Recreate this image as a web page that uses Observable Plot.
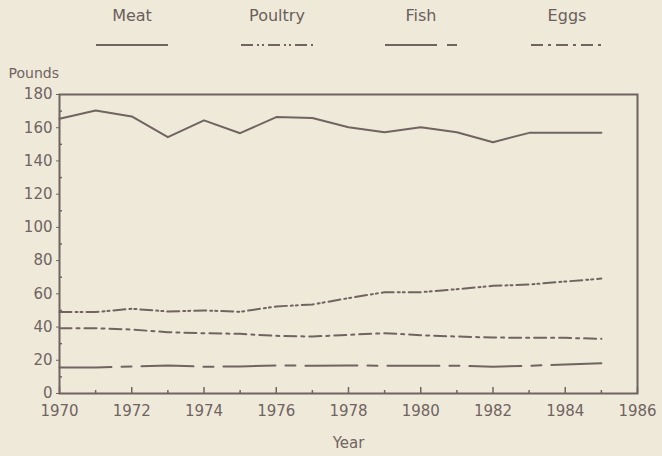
<!DOCTYPE html>
<html>
<head>
<meta charset="utf-8">
<script src="https://cdn.jsdelivr.net/npm/d3@7"></script>
<script src="https://cdn.jsdelivr.net/npm/@observablehq/plot@0.6"></script>
<style>
  html, body { margin: 0; padding: 0; background: #efe9da; }
  #wrap { position: relative; width: 662px; height: 456px; font-family: "DejaVu Sans", sans-serif; color: #6a5f5b; }
  #legend { position: relative; width: 662px; height: 56px; }
  .item { position: absolute; top: 6px; width: 140px; margin-left: -70px; text-align: center; font-size: 16px; }
  .item svg { display: block; margin: 18px auto 0; }
</style>
</head>
<body>
<div id="wrap">
  <div id="legend"></div>
  <div id="chart"></div>
</div>
<script>
const years   = [1970,1971,1972,1973,1974,1975,1976,1977,1978,1979,1980,1981,1982,1983,1984,1985];
const meat    = [165.4,170.4,166.8,154.3,164.4,156.7,166.4,165.8,160.3,157.3,160.3,157.3,151.3,156.9,157.0,157.0];
const poultry = [49.0,49.0,51.0,49.4,50.0,49.2,52.4,53.6,57.4,61.0,61.0,62.8,64.8,65.6,67.4,69.2];
const fish    = [15.6,15.6,16.3,16.9,16.1,16.3,16.9,16.7,16.9,16.7,16.7,16.7,16.1,16.7,17.5,18.2];
const eggs    = [39.3,39.3,38.5,36.9,36.3,35.9,34.7,34.3,35.3,36.3,35.1,34.3,33.7,33.5,33.5,32.9];
const seriesNames = ["Meat", "Poultry", "Fish", "Eggs"];
const xTicks = [1970,1972,1974,1976,1978,1980,1982,1984,1986];
const yTicks = [0,20,40,60,80,100,120,140,160,180];

const ink = "#6f6460";
const dashes = {Meat: "none", Poultry: "12 4 2 3 2 4", Fish: "52 10 10 10", Eggs: "12 5 3 5"};
const legendX = {Meat: 132, Poultry: 277, Fish: 421, Eggs: 567};
const valuesBySeries = {Meat: meat, Poultry: poultry, Fish: fish, Eggs: eggs};

const rows = seriesNames.flatMap(s => years.map((year, i) => ({series: s, year, value: valuesBySeries[s][i]})));

// legend
const legend = document.getElementById("legend");
for (const s of seriesNames) {
  const div = document.createElement("div");
  div.className = "item";
  div.style.left = legendX[s] + "px";
  div.innerHTML = `<div>${s}</div><svg width="72" height="4"><line x1="0" x2="72" y1="2" y2="2" stroke="${ink}" stroke-width="2" ${dashes[s] === "none" ? "" : `stroke-dasharray="${dashes[s]}"`}/></svg>`;
  legend.appendChild(div);
}

const minorX = years.filter(y => y % 2 === 1);
const minorY = [10,30,50,70,90,110,130,150,170];

const chart = Plot.plot({
  width: 662,
  height: 400,
  marginTop: 38,
  marginBottom: 63,
  marginLeft: 59,
  marginRight: 25,
  style: {background: "transparent", color: ink, fontFamily: "DejaVu Sans, sans-serif", fontSize: "15px"},
  x: {domain: [1970, 1986]},
  y: {domain: [0, 180]},
  marks: [
    Plot.axisX({ticks: xTicks, tickFormat: "d", tickSize: 0, tickPadding: 12, label: null, fontSize: 15}),
    Plot.axisX({ticks: xTicks, tickSize: -6, text: null, label: null, strokeWidth: 1.5}),
    Plot.axisX({ticks: minorX, tickSize: -3, text: null, label: null, strokeWidth: 1.5}),
    Plot.axisY({ticks: yTicks, tickSize: 3, tickPadding: 4, label: null, fontSize: 15}),
    Plot.axisY({ticks: minorY, tickSize: -3, text: null, label: null, strokeWidth: 1.5}),
    Plot.frame({stroke: ink, strokeWidth: 2}),
    ...seriesNames.map(s => Plot.line(rows.filter(d => d.series === s), {
      x: "year", y: "value", stroke: ink, strokeWidth: 2,
      strokeDasharray: dashes[s] === "none" ? undefined : dashes[s]
    })),
    Plot.text(["Pounds"], {frameAnchor: "top-left", dx: -51, dy: -26, textAnchor: "start", fontSize: 14, fill: ink}),
    Plot.text(["Year"], {frameAnchor: "bottom", dy: 54, fontSize: 15, fill: ink})
  ]
});
document.getElementById("chart").appendChild(chart);
</script>
</body>
</html>
